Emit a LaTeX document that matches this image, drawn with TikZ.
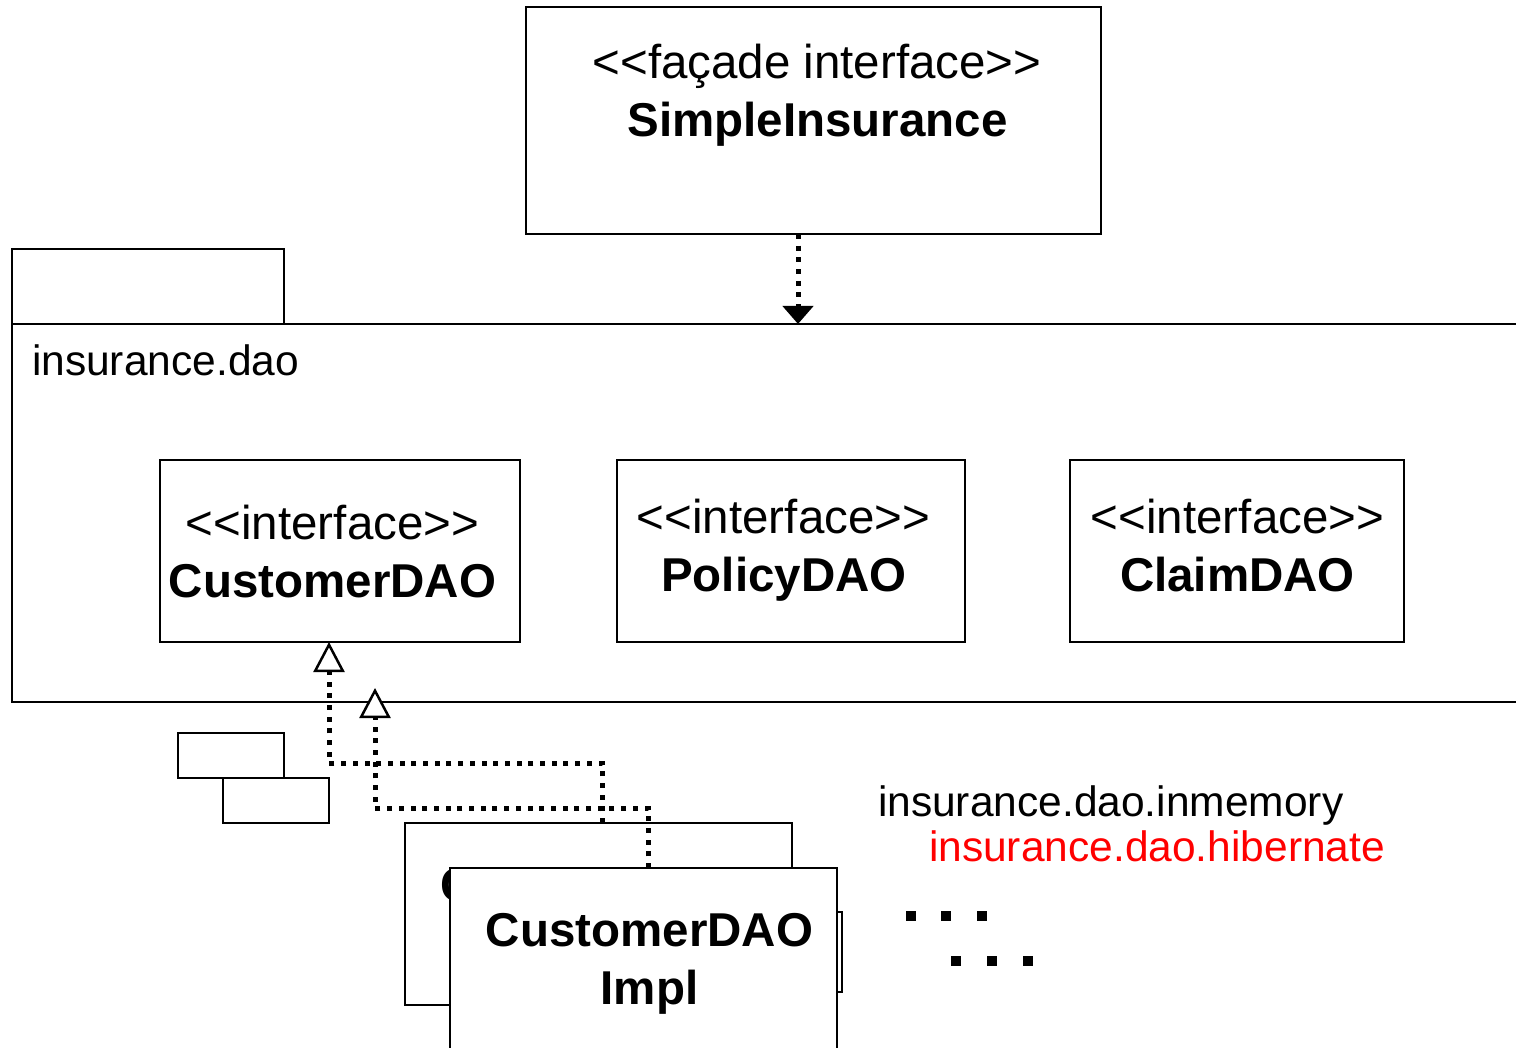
\documentclass[tikz,border=0pt]{standalone}
\usepackage{fontspec}
\setmainfont{Liberation Sans}
\usetikzlibrary{arrows.meta}

\newcommand\umlboxfont{\fontsize{47.5pt}{57pt}\selectfont}
\newcommand\pkglabelfont{\fontsize{42.5pt}{51pt}\selectfont}

\tikzset{
  umlbox/.style={draw, line width=2.5pt, fill=white, inner sep=0pt, outer sep=0pt, anchor=north west},
  boxtext/.style={inner sep=0pt, outer sep=0pt, anchor=base, font=\umlboxfont},
  boxname/.style={boxtext, font=\umlboxfont\bfseries},
  pkgtext/.style={inner sep=0pt, outer sep=0pt, anchor=base west, font=\pkglabelfont},
  dotline/.style={line width=5pt, dash pattern=on 5pt off 6.7pt, line cap=butt},
  usesarrow/.style={dotline, -{Triangle[length=18pt, width=30pt]}},
  realizes/.style={dotline, -{Triangle[length=30pt, width=31pt, fill=white, line width=2.5pt]}},
}

\begin{document}
\begin{tikzpicture}[x=1pt, y=-1pt]
  \useasboundingbox (0,0) rectangle (1516,1048);
  \fill[white] (0,0) rectangle (1516,1048);

  % facade class
  \node[umlbox, minimum width=575pt, minimum height=227pt] (facade) at (526,7) {};
  \node[boxtext] (facadeStereo) at (817,79) {<{}<façade interface>{}>};
  \node[boxname] (facadeName) at (817.5,137) {SimpleInsurance};

  % package insurance.dao
  \node[umlbox, minimum width=272pt, minimum height=75pt] (pkgTab) at (12,249) {};
  \node[umlbox, minimum width=1530pt, minimum height=378pt] (pkg) at (12,324) {};
  \node[pkgtext] (pkgLabel) at (32,376) {insurance.dao};

  % DAO interfaces
  \node[umlbox, minimum width=360pt, minimum height=182pt] (custDAO) at (160,460) {};
  \node[boxtext] (custStereo) at (332.5,539) {<{}<interface>{}>};
  \node[boxname] (custName) at (332.5,597) {CustomerDAO};

  \node[umlbox, minimum width=348pt, minimum height=182pt] (policyDAO) at (617,460) {};
  \node[boxtext] (policyStereo) at (783.5,533) {<{}<interface>{}>};
  \node[boxname] (policyName) at (784,591) {PolicyDAO};

  \node[umlbox, minimum width=334pt, minimum height=182pt] (claimDAO) at (1070,460) {};
  \node[boxtext] (claimStereo) at (1237.5,533) {<{}<interface>{}>};
  \node[boxname] (claimName) at (1237.5,591) {ClaimDAO};

  % small package icon
  \node[umlbox, minimum width=106pt, minimum height=45pt] (iconA) at (178,733) {};
  \node[umlbox, minimum width=106pt, minimum height=45pt] (iconB) at (223,778) {};

  % implementation packages
  \node[pkgtext] (inmemLabel) at (878,816) {insurance.dao.inmemory};
  \node[pkgtext, text=red] (hibLabel) at (929,861) {insurance.dao.hibernate};

  % stacked implementation classes (back one mostly hidden)
  \node[umlbox, minimum width=387pt, minimum height=182pt] (implBack) at (405,823) {};
  \node[boxname] (implBackName) at (604.5,901) {CustomerDAO};
  \node[umlbox, minimum width=142pt, minimum height=80pt] (implMid) at (700,912) {};
  \node[umlbox, minimum width=387pt, minimum height=200pt] (implFront) at (450,868) {};
  \node[boxname] (implFrontName) at (649.5,946) {CustomerDAO};
  \node[boxname] (implFrontSub) at (649.5,1004) {Impl};

  % further implementations
  \foreach \cx/\cy in {911/916, 946/916, 982/916, 956/961, 992/961, 1028/961}
    \fill (\cx-5.3,\cy-5.3) rectangle (\cx+5.3,\cy+5.3);

  % dependency of the facade on the package
  \coordinate (depStart) at ([xshift=272pt]facade.south west);
  \coordinate (depEnd) at (depStart |- pkg.north);
  \draw[usesarrow] (depStart) -- (depEnd);

  % realizations
  \coordinate (aStart) at ([xshift=197pt]implBack.north west);
  \coordinate (aEnd) at ([xshift=169pt]custDAO.south west);
  \draw[realizes] (aStart) -- ++(0,-60) -| (aEnd);

  \coordinate (bStart) at ([xshift=198pt]implFront.north west);
  \coordinate (bEnd) at (375,688);
  \draw[realizes] (bStart) -- ++(0,-60) -| (bEnd);
\end{tikzpicture}
\end{document}
